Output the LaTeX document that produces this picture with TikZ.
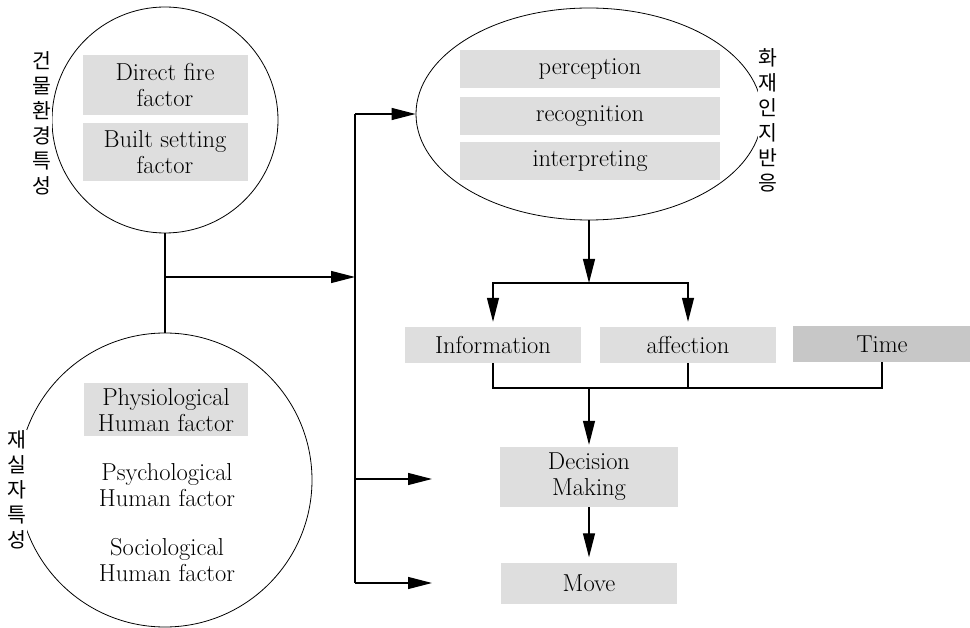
\documentclass[tikz,border=0pt]{standalone}
\usepackage{fontspec}
\newfontfamily\kr{Noto Sans CJK KR}
\usetikzlibrary{arrows.meta,shapes.geometric}
\begin{document}
\begin{tikzpicture}[x=1pt,y=-1pt,
  every node/.style={font=\fontsize{24.5}{26}\selectfont, inner sep=0pt},
  ln/.style={line width=1.3pt},
  arr/.style={ln,-{Triangle[length=24pt,width=12pt]}},
  shade/.style={fill=black!13, align=center},
  shadeB/.style={fill=black!22, align=center},
  kor/.style={font=\kr\fontsize{20.5}{25}\selectfont, fill=white, align=center, inner sep=1pt}
]
\useasboundingbox (0,0) rectangle (970,628);

% shapes
\node[draw, circle, minimum size=226pt, line width=0.8pt] (c1) at (165,120) {};
\node[draw, circle, minimum size=294pt, line width=0.8pt] (c2) at (165,480) {};
\node[draw, ellipse, minimum width=346pt, minimum height=212pt, line width=0.8pt] (ell) at (589,114) {};

% top circle texts
\node[shade, minimum width=165pt, minimum height=60pt] (df) at (165,85) {Direct fire\\factor};
\node[shade, minimum width=165pt, minimum height=58pt] (bs) at (165,152) {Built setting\\factor};

% bottom circle texts
\node[shade, minimum width=164pt, minimum height=53pt] (ph) at (166,410) {Physiological\\Human factor};
\node[align=center] (ps) at (167,485) {Psychological\\Human factor};
\node[align=center] (so) at (167,560) {Sociological\\Human factor};

% ellipse texts
\node[shade, minimum width=260pt, minimum height=38pt] (pe) at (590,69) {perception};
\node[shade, minimum width=260pt, minimum height=38pt] (re) at (590,116) {recognition};
\node[shade, minimum width=260pt, minimum height=38pt] (in) at (590,161) {interpreting};

% Korean labels
\node[kor] (k1) at (42,123) {건\\물\\환\\경\\특\\성};
\node[kor] (k2) at (17,490) {재\\실\\자\\특\\성};
\node[kor] (k3) at (768,120) {화\\재\\인\\지\\반\\응};

% middle row
\node[shade, minimum width=176pt, minimum height=36pt] (info) at (493,345) {Information};
\node[shade, minimum width=176pt, minimum height=36pt] (aff) at (688,345) {affection};
\node[shadeB, minimum width=178pt, minimum height=36pt] (time) at (882,344) {Time};

% decision and move
\node[shade, minimum width=178pt, minimum height=60pt] (dec) at (589,477) {Decision\\Making};
\node[shade, minimum width=176pt, minimum height=41pt] (mov) at (589,583) {Move};

% coordinates
\coordinate (j1) at (165,277);
\coordinate (b0) at (355,277);
\coordinate (b1) at (355,114);
\coordinate (b2) at (355,479);
\coordinate (b3) at (355,583);
\coordinate (d1) at (432,479);
\coordinate (m1) at (432,583);
\coordinate (split) at (589,283);
\coordinate (join) at (589,388);

% connectors
\draw[ln] (c1.south) -- (c2.north);
\draw[arr] (j1) -- (b0);
\draw[ln] (b1) -- (b3);
\draw[arr] (b1) -- (ell.west);
\draw[arr] (b2) -- (d1);
\draw[arr] (b3) -- (m1);

\draw[arr] (ell.south) -- (split);
\draw[arr, shorten >=5pt] (split) -| (info.north);
\draw[arr, shorten >=5pt] (split) -| (aff.north);

\draw[ln] (info.south) |- (join) -| (time.south);
\draw[ln] (aff.south) -- (aff.south |- join);
\draw[arr, shorten >=2pt] (join) -- (dec.north);
\draw[arr, shorten >=5pt] (dec.south) -- (mov.north);
\end{tikzpicture}
\end{document}
